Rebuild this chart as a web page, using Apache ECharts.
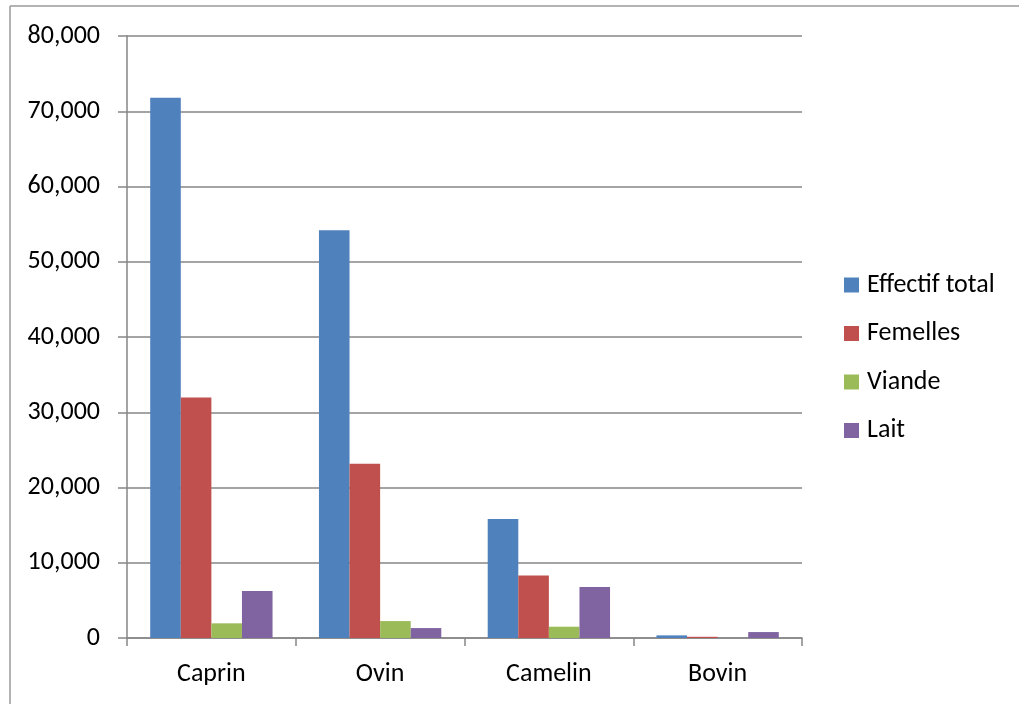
<!DOCTYPE html>
<html>
<head>
<meta charset="utf-8">
<script src="https://cdn.jsdelivr.net/npm/echarts@6/dist/echarts.min.js"></script>
<style>html,body{margin:0;padding:0;background:#fff;}#c{width:1019px;height:704px;}</style>
</head>
<body>
<div id="c"></div>
<script>
const categories = ['Caprin', 'Ovin', 'Camelin', 'Bovin'];
const effectifTotal = [71800, 54200, 15800, 350];
const femelles = [31950, 23150, 8320, 160];
const viande = [1950, 2250, 1500, 0];
const lait = [6250, 1320, 6770, 790];
const seriesNames = ['Effectif total', 'Femelles', 'Viande', 'Lait'];
const yTicks = { min: 0, max: 80000, interval: 10000 };

const FONT = 'Carlito, Lato, sans-serif';
const FS = 26;
const colors = ['#4F81BD', '#C0504D', '#9BBB59', '#8064A2'];
const chart = echarts.init(document.getElementById('c'));
const dataSets = [effectifTotal, femelles, viande, lait];

chart.setOption({
  animation: false,
  color: colors,
  grid: { left: 127, right: 217, top: 36, bottom: 66 },
  legend: {
    orient: 'vertical',
    left: 844,
    top: 271,
    padding: 0,
    itemWidth: 15,
    itemHeight: 15,
    itemGap: 20.5,
    icon: 'rect',
    textStyle: { fontFamily: FONT, fontSize: FS, color: '#000', lineHeight: 28, padding: [0, 0, 0, 3] },
    data: seriesNames
  },
  xAxis: {
    type: 'category',
    data: categories,
    axisLine: { lineStyle: { color: '#868686', width: 1.5 } },
    axisTick: { show: true, length: 8, lineStyle: { color: '#868686', width: 1.5 } },
    axisLabel: { fontFamily: FONT, fontSize: FS, color: '#000', margin: 23 }
  },
  yAxis: {
    type: 'value',
    min: yTicks.min,
    max: yTicks.max,
    interval: yTicks.interval,
    axisLine: { show: true, lineStyle: { color: '#868686', width: 1.5 } },
    axisTick: { show: true, length: 9, lineStyle: { color: '#868686', width: 1.5 } },
    splitLine: { lineStyle: { color: '#868686', width: 1.5 } },
    axisLabel: {
      fontFamily: FONT, fontSize: FS, color: '#000', margin: 27,
      formatter: v => v.toLocaleString('en-US')
    }
  },
  graphic: [
    { type: 'line', shape: { x1: 10, y1: 6, x2: 1019, y2: 6 }, style: { stroke: '#9a9a9a', lineWidth: 1.5 } },
    { type: 'line', shape: { x1: 10, y1: 6, x2: 10, y2: 704 }, style: { stroke: '#9a9a9a', lineWidth: 1.5 } }
  ],
  series: seriesNames.map((n, i) => ({
    name: n,
    type: 'bar',
    data: dataSets[i],
    barGap: '0%',
    barCategoryGap: '27.5%',
    itemStyle: { color: colors[i] }
  }))
});
</script>
</body>
</html>
